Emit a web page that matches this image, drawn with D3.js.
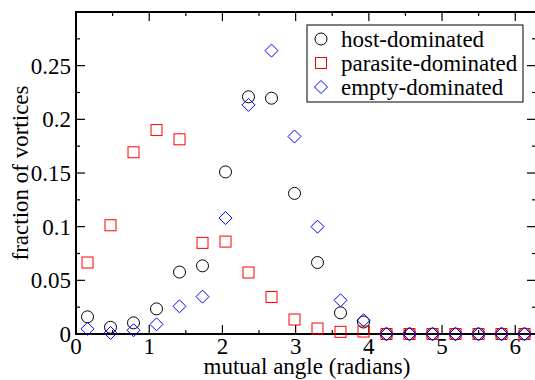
<!DOCTYPE html>
<html>
<head>
<meta charset="utf-8">
<script src="https://cdn.jsdelivr.net/npm/d3@7"></script>
<style>
  body { margin: 0; background: #fff; }
  svg { display: block; }
</style>
</head>
<body>
<div id="wrapper"></div>
<script>
// bin centres: (i + 0.5) * pi / 10
const angles = d3.range(20).map(i => (i + 0.5) * Math.PI / 10)
const hostValues = [0.016, 0.0063, 0.0104, 0.0234, 0.0577, 0.0635, 0.151, 0.221, 0.2197, 0.131,
  0.0666, 0.0197, 0.0112, 0, 0, 0, 0, 0, 0, 0]
const parasiteValues = [0.0666, 0.1013, 0.1693, 0.19, 0.1814, 0.0849, 0.0861, 0.0573, 0.0345, 0.0135,
  0.0051, 0.002, 0.0023, 0, 0, 0, 0, 0, 0, 0]
const emptyValues = [0.0048, 0.001, 0.0035, 0.009, 0.0258, 0.0348, 0.108, 0.2135, 0.264, 0.184,
  0.1, 0.0314, 0.0128, 0, 0, 0, 0, 0, 0, 0]
const seriesNames = ["host-dominated", "parasite-dominated", "empty-dominated"]
const xTicks = [0, 1, 2, 3, 4, 5, 6]
const yTicks = [0, 0.05, 0.1, 0.15, 0.2, 0.25]

const fontFamily = "'Liberation Serif', 'DejaVu Serif', 'Times New Roman', serif"

const dimensions = {
  width: 535,
  height: 380,
  margin: { top: 12, right: -1, bottom: 46, left: 76 },
}
dimensions.boundedWidth = dimensions.width - dimensions.margin.left - dimensions.margin.right
dimensions.boundedHeight = dimensions.height - dimensions.margin.top - dimensions.margin.bottom

const wrapper = d3.select("#wrapper").append("svg")
  .attr("width", dimensions.width)
  .attr("height", dimensions.height)
  .style("font-family", fontFamily)

const bounds = wrapper.append("g")
  .attr("transform", `translate(${dimensions.margin.left},${dimensions.margin.top})`)

const xScale = d3.scaleLinear()
  .domain([0, 2 * Math.PI])
  .range([0, dimensions.boundedWidth])
const yScale = d3.scaleLinear()
  .domain([0, 0.3])
  .range([dimensions.boundedHeight, 0])

// minor ticks (inward) on all four sides
const xMinor = d3.range(0.5, 6.3, 1)
const yMinor = d3.range(0.025, 0.3, 0.05)
const tickGroup = bounds.append("g").attr("stroke", "#000").attr("stroke-width", 1.2)
const h = dimensions.boundedHeight, w = dimensions.boundedWidth
xTicks.concat(xMinor).forEach(v => {
  const len = xTicks.includes(v) ? 9 : 4
  const x = xScale(v)
  tickGroup.append("line").attr("x1", x).attr("x2", x).attr("y1", h).attr("y2", h - len)
  tickGroup.append("line").attr("x1", x).attr("x2", x).attr("y1", 0).attr("y2", len)
})
yTicks.concat(yMinor, [0.3]).forEach(v => {
  const len = yTicks.includes(v) || v === 0.3 ? 9 : 4
  const y = yScale(v)
  tickGroup.append("line").attr("x1", 0).attr("x2", len).attr("y1", y).attr("y2", y)
  tickGroup.append("line").attr("x1", w).attr("x2", w - len).attr("y1", y).attr("y2", y)
})

bounds.append("rect")
  .attr("width", w).attr("height", h)
  .attr("fill", "none").attr("stroke", "#000").attr("stroke-width", 2)

// tick labels
bounds.selectAll(".xlab").data(xTicks).join("text")
  .attr("class", "xlab")
  .attr("x", d => xScale(d)).attr("y", h + 20)
  .attr("text-anchor", "middle").attr("font-size", 23)
  .text(d => d)
bounds.selectAll(".ylab").data(yTicks).join("text")
  .attr("class", "ylab")
  .attr("x", -5).attr("y", d => yScale(d) + 8)
  .attr("text-anchor", "end").attr("font-size", 23)
  .text(d => d)

wrapper.append("text")
  .attr("x", dimensions.margin.left + w / 2 + 1).attr("y", 374)
  .attr("text-anchor", "middle").attr("font-size", 23)
  .text("mutual angle (radians)")
wrapper.append("text")
  .attr("transform", `translate(28,${dimensions.margin.top + h / 2}) rotate(-90)`)
  .attr("text-anchor", "middle").attr("font-size", 23)
  .text("fraction of vortices")

// markers
const drawCircle = (g, x, y) => g.append("circle").attr("cx", x).attr("cy", y).attr("r", 6)
  .attr("fill", "none").attr("stroke", "#000").attr("stroke-width", 1)
const drawSquare = (g, x, y) => g.append("rect").attr("x", x - 5.5).attr("y", y - 5.5)
  .attr("width", 11).attr("height", 11)
  .attr("fill", "none").attr("stroke", "#ff0000").attr("stroke-width", 1)
const drawDiamond = (g, x, y) => g.append("path")
  .attr("d", `M${x},${y - 6.5}L${x + 6.5},${y}L${x},${y + 6.5}L${x - 6.5},${y}Z`)
  .attr("fill", "none").attr("stroke", "#0000ff").attr("stroke-width", 1)

const series = [
  { values: hostValues, draw: drawCircle },
  { values: parasiteValues, draw: drawSquare },
  { values: emptyValues, draw: drawDiamond },
]
series.forEach(s => {
  const g = bounds.append("g")
  s.values.forEach((v, i) => s.draw(g, xScale(angles[i]), yScale(v)))
})

// legend
const legend = wrapper.append("g").attr("transform", "translate(307,25)")
legend.append("rect")
  .attr("width", 216).attr("height", 77)
  .attr("fill", "#fff").attr("stroke", "#000").attr("stroke-width", 1)
series.forEach((s, i) => {
  const cy = 14 + i * 24
  s.draw(legend, 14, cy)
  legend.append("text")
    .attr("x", 34).attr("y", cy + 8)
    .attr("font-size", 23)
    .text(seriesNames[i])
})
</script>
</body>
</html>
